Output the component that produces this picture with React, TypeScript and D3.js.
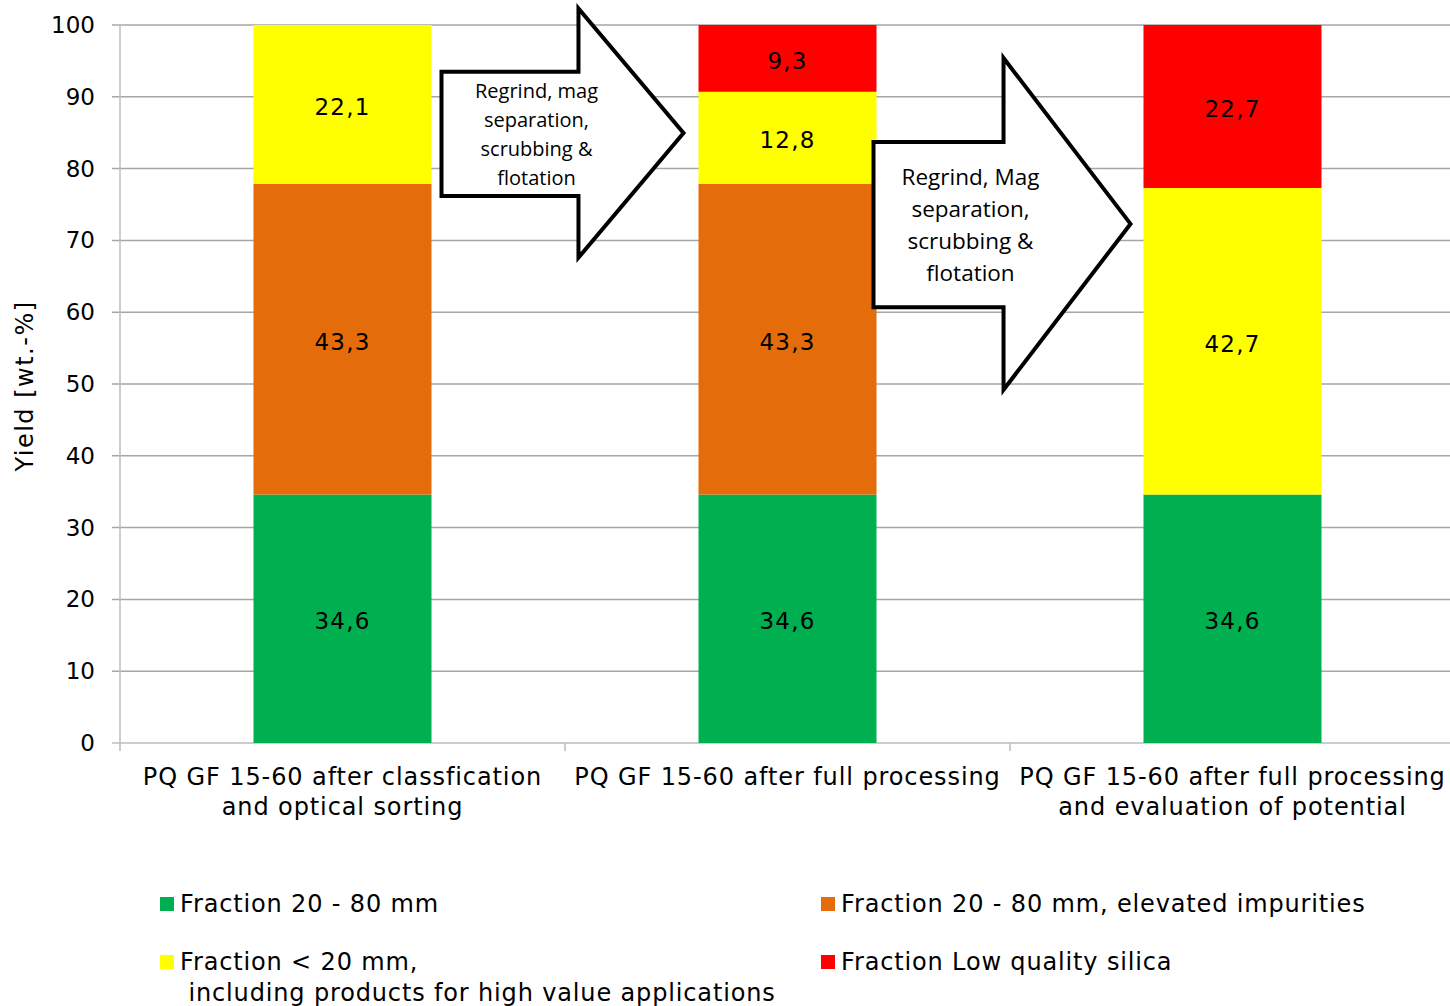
import React from "react";
import * as d3 from "d3";

const width = 1450; // whole picture, px
const height = 1006;
const margin = { left: 120, right: -5, top: 25, bottom: 263 }; // plot area
const verdana = "'DejaVu Sans', Verdana, sans-serif";
const calibri = "'Open Sans', Calibri, sans-serif";

// chart values (wt.-%)
const categories = [
  ["PQ GF 15-60 after classfication", "and optical sorting"],
  ["PQ GF 15-60 after full processing"],
  ["PQ GF 15-60 after full processing", "and evaluation of potential"],
];
const fractionCoarse = [34.6, 34.6, 34.6];
const fractionImpure = [43.3, 43.3, 0];
const fractionFine = [22.1, 12.8, 42.7];
const fractionLowSilica = [0, 9.3, 22.7];
const yTicks = [0, 10, 20, 30, 40, 50, 60, 70, 80, 90, 100];

const seriesKeys = ["coarse", "impure", "fine", "low"];
const seriesColors = ["#00b050", "#e46c0a", "#ffff00", "#ff0000"];
const seriesNames = [
  ["Fraction 20 - 80 mm"],
  ["Fraction 20 - 80 mm, elevated impurities"],
  ["Fraction < 20 mm,", " including products for high value applications"],
  ["Fraction Low quality silica"],
];

// process arrows between bars: y extents in data units
const arrowTexts = [
  ["Regrind, mag", "separation,", "scrubbing &", "flotation"],
  ["Regrind, Mag", "separation,", "scrubbing &", "flotation"],
];
const arrowBody = [
  [93.5, 76.2],
  [83.7, 60.7],
];
const arrowHead = [
  [102.3, 67.6],
  [95.4, 49.2],
];

const table = categories.map((c, i) => ({
  name: c.join(" "),
  coarse: fractionCoarse[i],
  impure: fractionImpure[i],
  fine: fractionFine[i],
  low: fractionLowSilica[i],
}));

const x = d3
  .scaleBand()
  .domain(table.map((d) => d.name))
  .range([margin.left, width - margin.right])
  .paddingInner(0.6)
  .paddingOuter(0.3);
const y = d3
  .scaleLinear()
  .domain([0, 100])
  .range([height - margin.bottom, margin.top]);

const stacked = d3.stack<any>().keys(seriesKeys)(table);
const fmt = (v: number) => d3.format(".1f")(v).replace(".", ",");

const arrowLeft = (i: number) =>
  (x(table[i].name) as number) + x.bandwidth() + (i === 0 ? 10 : -3);

const arrowPath = (i: number): string => {
  const left = arrowLeft(i);
  const tip = (x(table[i + 1].name) as number) - (i === 0 ? 15 : 13);
  const neck = left + (tip - left) * (i === 0 ? 0.566 : 0.506);
  const [bt, bb] = arrowBody[i];
  const [ht, hb] = arrowHead[i];
  const mid = (ht + hb) / 2;
  return (
    `M${left},${y(bt)}L${neck},${y(bt)}L${neck},${y(ht)}` +
    `L${tip},${y(mid)}L${neck},${y(hb)}L${neck},${y(bb)}L${left},${y(bb)}Z`
  );
};

const App = () => {
  const y0 = y(0);
  const bw = x.bandwidth();
  const step = x.step();
  return (
    <svg
      width={width}
      height={height}
      style={{ position: "absolute", left: 0, top: 0, background: "#fff" }}
    >
      {/* gridlines and y ticks */}
      {yTicks.map((t) => (
        <g key={t}>
          <line
            x1={margin.left - 8}
            x2={width - margin.right}
            y1={y(t)}
            y2={y(t)}
            stroke={t === 0 ? "#bdbdbd" : "#a6a6a6"}
            strokeWidth={1.5}
          />
          <text
            x={95}
            y={y(t)}
            textAnchor="end"
            dominantBaseline="central"
            fontFamily={verdana}
            fontSize={23}
            fill="#000"
          >
            {t}
          </text>
        </g>
      ))}
      <line
        x1={margin.left}
        x2={margin.left}
        y1={y(100)}
        y2={y0 + 8}
        stroke="#bdbdbd"
        strokeWidth={1.5}
      />
      {table.slice(1).map((d) => (
        <line
          key={d.name}
          x1={(x(d.name) as number) - (step - bw) / 2}
          x2={(x(d.name) as number) - (step - bw) / 2}
          y1={y0}
          y2={y0 + 8}
          stroke="#bdbdbd"
          strokeWidth={1.5}
        />
      ))}

      {/* stacked bars */}
      {stacked.map((s, si) => (
        <g key={s.key} fill={seriesColors[si]}>
          {s.map((seg, i) =>
            seg[1] - seg[0] > 0 ? (
              <rect
                key={i}
                x={x(table[i].name)}
                y={y(seg[1])}
                width={bw}
                height={y(seg[0]) - y(seg[1])}
              />
            ) : null
          )}
        </g>
      ))}
      {stacked.map((s) =>
        s.map((seg, i) =>
          seg[1] - seg[0] > 0 ? (
            <text
              key={s.key + i}
              x={(x(table[i].name) as number) + bw / 2}
              y={y((seg[0] + seg[1]) / 2) + 2.5}
              textAnchor="middle"
              dominantBaseline="central"
              fontFamily={verdana}
              fontSize={23}
              letterSpacing={1.2}
              fill="#000"
            >
              {fmt(seg[1] - seg[0])}
            </text>
          ) : null
        )
      )}

      {/* process arrows */}
      {arrowTexts.map((lines, i) => {
        const fs = i === 0 ? 20 : 22.5;
        const lh = i === 0 ? 29 : 32;
        const bt = y(arrowBody[i][0]);
        const bb = y(arrowBody[i][1]);
        const cx = arrowLeft(i) + (i === 0 ? 95 : 97);
        const cy = (bt + bb) / 2;
        return (
          <g key={i}>
            <path
              d={arrowPath(i)}
              fill="#fff"
              stroke="#000"
              strokeWidth={4}
              strokeLinejoin="miter"
            />
            {lines.map((l, li) => (
              <text
                key={li}
                x={cx}
                y={cy + (li - (lines.length - 1) / 2) * lh}
                textAnchor="middle"
                dominantBaseline="central"
                fontFamily={calibri}
                fontSize={fs}
                fill="#000"
              >
                {l}
              </text>
            ))}
          </g>
        );
      })}

      {/* category labels */}
      {categories.map((c, i) => (
        <text
          key={i}
          x={(x(table[i].name) as number) + bw / 2}
          y={y0 + 34}
          textAnchor="middle"
          dominantBaseline="central"
          fontFamily={verdana}
          fontSize={24}
          letterSpacing={0.9}
          fill="#000"
        >
          {c.map((l, li) => (
            <tspan
              key={li}
              x={(x(table[i].name) as number) + bw / 2}
              dy={li === 0 ? 0 : 30}
            >
              {l}
            </tspan>
          ))}
        </text>
      ))}

      {/* y title */}
      <text
        transform={`translate(25,${y(50) + 2}) rotate(-90)`}
        textAnchor="middle"
        dominantBaseline="central"
        fontFamily={verdana}
        fontSize={24}
        letterSpacing={1.5}
        fill="#000"
      >
        Yield [wt.-%]
      </text>

      {/* legend */}
      {seriesNames.map((lines, i) => {
        const lx = i % 2 === 0 ? 160 : 821;
        const ly = i < 2 ? 904 : 962;
        return (
          <g key={i}>
            <rect
              x={lx}
              y={ly - 7}
              width={14}
              height={14}
              fill={seriesColors[i]}
            />
            {lines.map((l, li) => (
              <text
                key={li}
                x={lx + 20}
                y={ly + li * 31}
                dominantBaseline="central"
                fontFamily={verdana}
                fontSize={24}
                letterSpacing={0.85}
                fill="#000"
                style={{ whiteSpace: "pre" }}
              >
                {l}
              </text>
            ))}
          </g>
        );
      })}
    </svg>
  );
};

export default App;
